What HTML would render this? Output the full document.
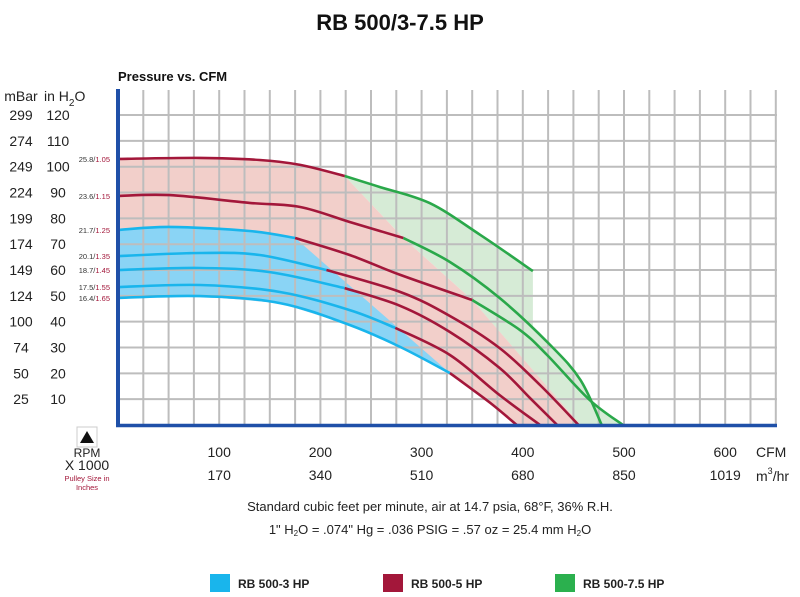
<!DOCTYPE html>
<html><head><meta charset="utf-8"><style>
body{margin:0;background:#fff;width:800px;height:597px;overflow:hidden;font-family:"Liberation Sans",sans-serif}
svg{position:absolute;left:0;top:0}
</style></head><body>
<svg id="chart" width="800" height="597" viewBox="0 0 800 597">
<text x="400" y="30" text-anchor="middle" font-size="22" font-weight="bold" fill="#111">RB 500/3-7.5 HP</text>
<text x="118" y="81" font-size="13" font-weight="bold" fill="#111">Pressure vs. CFM</text>
<g id="fills"></g>
<g id="grid"></g>
<g id="lines"></g>
<g id="axes"></g>
<g id="labels" font-size="14" fill="#222"></g>
<g>
<rect x="77" y="427" width="20" height="20" fill="#fff" stroke="#ccc"/>
<polygon points="80,443 87,431 94,443" fill="#111"/>
<text x="87" y="457" text-anchor="middle" font-size="12" fill="#222">RPM</text>
<text x="87" y="470" text-anchor="middle" font-size="14" fill="#222">X 1000</text>
<text x="87" y="481" text-anchor="middle" font-size="7.5" fill="#a3173a">Pulley Size in</text>
<text x="87" y="490" text-anchor="middle" font-size="7.5" fill="#a3173a">Inches</text>
</g>
<text x="430" y="511" text-anchor="middle" font-size="13" fill="#222">Standard cubic feet per minute, air at 14.7 psia, 68°F, 36% R.H.</text>
<text x="430" y="534" text-anchor="middle" font-size="13" fill="#222">1" H<tspan font-size="8" dy="2">2</tspan><tspan dy="-2">O = .074" Hg = .036 PSIG = .57 oz = 25.4 mm H</tspan><tspan font-size="8" dy="2">2</tspan><tspan dy="-2">O</tspan></text>
<g>
<rect x="210" y="574" width="20" height="18" fill="#19b5ec"/>
<text x="238" y="588" font-size="12" font-weight="bold" fill="#222">RB 500-3 HP</text>
<rect x="383" y="574" width="20" height="18" fill="#a3173a"/>
<text x="411" y="588" font-size="12" font-weight="bold" fill="#222">RB 500-5 HP</text>
<rect x="555" y="574" width="20" height="18" fill="#2bb04e"/>
<text x="583" y="588" font-size="12" font-weight="bold" fill="#222">RB 500-7.5 HP</text>
</g>
</svg>
<script>
// data: [CFM, inH2O]
const curve1=[[0,103],[81,103.4],[140,102.6],[180,100.7],[224,96.4],[259,92.1],[308,85.9],[358,73.6],[410,59.6]];
const curve2=[[0,88.7],[51,89],[130,86],[180,84.4],[229,78.6],[282,72.4],[328,63.1],[377,49.2],[427,31],[457,17.4],[478,0]];
const curve3=[[0,75.5],[51,76.7],[130,75.1],[175,72.4],[229,65.8],[279,58.1],[350,48.4],[397,36.8],[424,27.1],[466,9.7],[499,0]];
const curve4=[[0,65.4],[81,66.6],[140,65.8],[206,60],[279,51.5],[328,42.2],[377,29.8],[417,15.5],[455,0]];
const curve5=[[0,60],[81,60.8],[150,59.2],[224,53],[279,46.1],[328,36],[377,22.1],[407,10.5],[434,0]];
const curve6=[[0,53.4],[81,54.2],[160,51.5],[229,44.5],[274,37.6],[328,27.1],[377,11.6],[417,0]];
const curve7=[[0,49.2],[81,49.9],[160,47.2],[229,38.7],[279,30.2],[328,20.1],[368,8.5],[394,0]];
const curveLabels=["25.8/","23.6/","21.7/","20.1/","18.7/","17.5/","16.4/"];
const pulleyLabels=["1.05","1.15","1.25","1.35","1.45","1.55","1.65"];
// CFM where each curve switches blue->red and red->green
const blueEnd=[null,null,175,206,224,274,328];
const greenStart=[224,282,350,null,null,null,null];
const pinkEdge=[[224,96.4],[282,72.4],[350,48.4],[457,0]];
const cfmTicks=[100,200,300,400,500,600];
const m3Ticks=["170","340","510","680","850","1019"];
const pTicks=[120,110,100,90,80,70,60,50,40,30,20,10];
const mbarTicks=["299","274","249","224","199","174","149","124","100","74","50","25"];

const X=c=>118+c*1.012, Y=p=>425-p*2.583;
const NS="http://www.w3.org/2000/svg";
function mk(tag,parent,attrs){const e=document.createElementNS(NS,tag);for(const k in attrs)e.setAttribute(k,attrs[k]);parent.appendChild(e);return e;}
function interp(c,x){for(let i=0;i<c.length-1;i++){if(x>=c[i][0]&&x<=c[i+1][0]){const t=(x-c[i][0])/(c[i+1][0]-c[i][0]);return c[i][1]+t*(c[i+1][1]-c[i][1]);}}return c[c.length-1][1];}
function seg(c,a,b){const out=[[a,interp(c,a)]];c.forEach(p=>{if(p[0]>a&&p[0]<b)out.push(p);});out.push([b,interp(c,b)]);return out;}
function pts(arr){return arr.map(p=>X(p[0]).toFixed(1)+","+Y(p[1]).toFixed(1)).join(" ");}
function smoothPath(arr){let d="M"+X(arr[0][0])+","+Y(arr[0][1]);
 for(let i=0;i<arr.length-1;i++){const p0=arr[Math.max(i-1,0)],p1=arr[i],p2=arr[i+1],p3=arr[Math.min(i+2,arr.length-1)];
  const c1=[X(p1[0])+(X(p2[0])-X(p0[0]))/6,Y(p1[1])+(Y(p2[1])-Y(p0[1]))/6];
  const c2=[X(p2[0])-(X(p3[0])-X(p1[0]))/6,Y(p2[1])-(Y(p3[1])-Y(p1[1]))/6];
  d+=` C${c1[0].toFixed(1)},${c1[1].toFixed(1)} ${c2[0].toFixed(1)},${c2[1].toFixed(1)} ${X(p2[0]).toFixed(1)},${Y(p2[1]).toFixed(1)}`;}
 return d;}
const curves=[curve1,curve2,curve3,curve4,curve5,curve6,curve7];
const fills=document.getElementById('fills');
// green
const c1end=curve1[curve1.length-1][0];
let g=seg(curve1,greenStart[0],c1end).concat(seg(curve2,c1end,curve2[curve2.length-1][0]));
g=g.concat([[curve3[curve3.length-1][0],0]]);
let gp=mk('polygon',fills,{points:pts(g.concat([[pinkEdge[3][0],0]]).concat(pinkEdge.slice().reverse())),fill:'#d6ebd6'});


let g2=mk('polygon',fills,{points:pts(seg(curve3,greenStart[2],curve3[curve3.length-1][0]).concat([[pinkEdge[3][0],0],pinkEdge[2]])),fill:'#d6ebd6'});


// pink
const c7end=curve7[curve7.length-1][0];
let pk=seg(curve1,0,greenStart[0]).concat(pinkEdge.slice(1)).concat([[c7end,0]]).concat(seg(curve7,0,c7end).reverse());
let pp=mk('polygon',fills,{points:pts(pk),fill:'#f2cfca'});


// blue
let bl=seg(curve3,0,blueEnd[2]).concat(seg(curve7,0,blueEnd[6]).reverse());
let bp=mk('polygon',fills,{points:pts(bl),fill:'#8ad4f5'});


// grid
const grid=document.getElementById('grid');
for(let c=25;c<=650;c+=25){const l=mk('line',grid,{x1:X(c),x2:X(c),y1:90,y2:425,stroke:'#bdbdbd','stroke-width':2});

}
for(let p=10;p<=120;p+=10){const l=mk('line',grid,{x1:118,x2:777,y1:Y(p),y2:Y(p),stroke:'#bdbdbd','stroke-width':2});

}
// curves
const lines=document.getElementById('lines');
const colB='#19b5ec',colR='#a3173a',colG='#2aa84a';
curves.forEach((c,i)=>{const end=c[c.length-1][0];let parts=[];
 const b=blueEnd[i],gs=greenStart[i];
 if(b!==null)parts.push([0,b,colB]);
 const rs=b!==null?b:0,re=gs!==null?gs:end;parts.push([rs,re,colR]);
 if(gs!==null)parts.push([gs,end,colG]);
 parts.forEach(pt=>{const e=mk('path',lines,{d:smoothPath(seg(c,pt[0],pt[1])),fill:'none',stroke:pt[2],'stroke-width':2.6});
 
 });
 const t=mk('text',lines,{x:110,y:Y(c[0][1])+3,'text-anchor':'end','font-size':7.5,fill:'#333'});
 
 
 t.textContent=curveLabels[i];const s=mk('tspan',t,{fill:colR});s.textContent=pulleyLabels[i];
});
// axes
const axes=document.getElementById('axes');
let a1=mk('line',axes,{x1:118,x2:118,y1:89,y2:427,stroke:'#1f50a8','stroke-width':4});


let a2=mk('line',axes,{x1:116,x2:777,y1:425.5,y2:425.5,stroke:'#1f50a8','stroke-width':3.5});


// labels
const lab=document.getElementById('labels');
function txt(x,y,s,name,anchor,size){const t=mk('text',lab,{x:x,y:y,'text-anchor':anchor||'middle'});if(size)t.setAttribute('font-size',size);t.textContent=s;

return t;}
txt(21,101,'mBar','y-axis-title-mbar');
const ih=txt(44,101,'in H','y-axis-title-inh2o','start');const s2=mk('tspan',ih,{'font-size':10,dy:5});s2.textContent='2';const s3=mk('tspan',ih,{dy:-5});s3.textContent='O';
pTicks.forEach((p,i)=>{txt(58,Y(p)+5,String(p),'y-tick-inh2o');txt(21,Y(p)+5,mbarTicks[i],'y-tick-mbar');});
cfmTicks.forEach((c,i)=>{txt(X(c),457,String(c),'x-tick-cfm');txt(X(c),480,m3Ticks[i],'x-tick-m3hr');});
txt(756,457,'CFM','x-unit-cfm','start');
const m=txt(756,481,'m','x-unit-m3hr','start');const sp=mk('tspan',m,{'font-size':9,dy:-7});sp.textContent='3';const sp2=mk('tspan',m,{dy:7});sp2.textContent='/hr';
</script>
</body></html>
